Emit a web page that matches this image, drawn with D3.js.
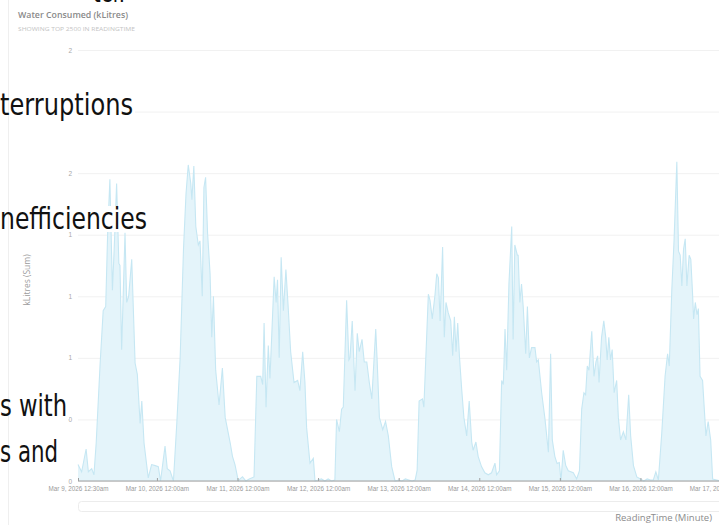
<!DOCTYPE html>
<html>
<head>
<meta charset="utf-8">
<script src="https://cdn.jsdelivr.net/npm/d3@7"></script>
<style>
  body { margin: 0; background: #fff; }
  svg { display: block; }
</style>
</head>
<body>
<div id="chart"></div>
<script>
// readings per day: [time, kLitres]
const mar09 = [["00:30",0.08],["01:35",0.045],["02:55",0.156],["03:35",0.045],["04:35",0.06],["05:15",0.03],["05:55",0.185],["07:05",0.57],["08:00",0.83],["08:45",0.85],["09:20",1.21],["10:00",1.47],["10:45",0.93],["11:15",1.12],["12:00",1.45],["12:40",1.06],["13:00",1.05],["13:30",0.64],["14:30",1.21],["15:00",0.87],["15:35",0.9],["16:30",1.08],["17:30",0.575],["18:10",0.52],["19:00",0.28],["19:30",0.39],["20:10",0.185],["21:25",0.015],["22:25",0.08],["23:30",0.075]]
const mar10 = [["00:25",0.07],["01:05",0.0],["02:25",0.17],["03:05",0.06],["03:55",0.05],["04:55",0.0],["05:55",0.28],["06:55",0.6],["07:55",1.13],["08:40",1.40],["09:20",1.54],["10:05",1.45],["10:25",1.37],["11:00",1.535],["11:35",1.24],["12:20",1.15],["12:50",1.17],["13:30",0.9],["14:00",1.43],["14:30",1.48],["15:05",1.21],["15:50",1.01],["16:20",0.70],["16:50",0.9],["17:30",0.54],["18:30",0.37],["19:30",0.55],["20:20",0.31],["21:50",0.185],["22:30",0.12],["23:15",0.08]]
const mar11 = [["00:15",0.0],["00:45",0.01],["01:30",0.02],["02:30",0.0],["03:30",0.01],["04:55",0.02],["05:45",0.51],["06:55",0.51],["07:30",0.47],["07:55",0.77],["08:30",0.36],["09:10",0.66],["09:40",0.5],["10:55",0.995],["11:30",0.87],["11:55",0.98],["12:25",0.6],["13:00",1.09],["13:40",0.83],["14:25",1.03],["15:05",0.85],["15:50",0.63],["16:50",0.48],["17:55",0.49],["18:35",0.44],["19:25",0.63],["20:05",0.48],["20:35",0.26],["21:35",0.087],["22:35",0.11],["23:05",0.0]]
const mar12 = [["00:00",0.005],["01:00",0.01],["02:00",0.0],["03:00",0.01],["04:00",0.0],["05:00",0.005],["05:30",0.3],["06:20",0.24],["07:00",0.35],["07:30",0.36],["08:30",0.88],["09:10",0.59],["09:30",0.6],["10:10",0.78],["11:00",0.44],["11:40",0.72],["12:15",0.63],["13:05",0.69],["13:45",0.58],["14:30",0.58],["15:15",0.48],["16:00",0.40],["17:10",0.74],["17:35",0.59],["18:15",0.31],["19:15",0.25],["20:05",0.29],["20:55",0.22],["21:55",0.07],["22:55",0.0]]
const mar13 = [["00:00",0.005],["01:00",0.0],["02:00",0.01],["03:00",0.005],["04:00",0.0],["04:55",0.005],["05:30",0.053],["06:05",0.39],["07:05",0.4],["07:30",0.36],["08:50",0.91],["09:20",0.88],["10:00",0.79],["10:50",0.91],["11:20",1.01],["11:50",0.99],["12:20",0.78],["13:05",1.14],["13:35",0.70],["14:05",0.87],["14:45",0.82],["15:30",0.78],["16:05",0.61],["16:35",0.80],["17:05",0.63],["17:35",0.77],["18:05",0.61],["18:45",0.45],["19:25",0.31],["20:15",0.22],["21:00",0.39],["21:45",0.19],["22:10",0.15],["23:00",0.19],["23:40",0.12]]
const mar14 = [["00:40",0.07],["01:40",0.04],["02:40",0.03],["03:40",0.04],["04:40",0.087],["05:10",0.03],["06:00",0.05],["06:40",0.49],["07:10",0.47],["07:40",0.74],["08:10",0.54],["08:50",0.96],["09:40",1.24],["10:05",0.69],["10:35",1.15],["11:20",1.10],["11:35",1.10],["12:05",0.87],["12:35",0.96],["13:05",0.85],["13:50",0.62],["14:20",0.85],["14:55",0.60],["15:35",0.65],["16:35",0.65],["17:05",0.58],["17:35",0.59],["18:35",0.43],["19:35",0.30],["20:35",0.14],["21:15",0.62],["21:45",0.20],["22:30",0.12],["23:10",0.085],["23:50",0.09]]
const mar15 = [["00:20",0.0],["01:00",0.15],["01:45",0.075],["02:30",0.05],["04:00",0.04],["05:00",0.01],["05:50",0.05],["06:30",0.35],["07:10",0.43],["07:40",0.42],["08:10",0.56],["08:40",0.54],["09:30",0.73],["10:10",0.51],["10:45",0.58],["11:15",0.61],["11:40",0.48],["12:25",0.70],["13:05",0.78],["13:40",0.70],["14:05",0.59],["14:35",0.70],["15:05",0.59],["15:35",0.64],["16:10",0.43],["16:55",0.49],["17:25",0.31],["18:05",0.20],["18:55",0.24],["19:40",0.20],["20:30",0.42],["21:05",0.22],["21:55",0.075],["22:55",0.02]]
const mar16 = [["00:00",0.01],["01:00",0.0],["02:00",0.01],["03:00",0.005],["03:50",0.005],["04:35",0.045],["05:20",0.005],["06:20",0.23],["07:20",0.51],["08:05",0.62],["08:35",0.56],["09:20",0.93],["10:00",1.17],["10:50",1.556],["11:20",1.12],["11:50",1.10],["12:20",0.95],["12:50",1.13],["13:20",1.18],["13:50",0.95],["14:30",1.10],["15:00",1.08],["15:30",0.92],["15:50",0.79],["16:20",0.87],["16:50",0.81],["17:15",0.84],["17:45",0.51],["18:30",0.49],["19:10",0.31],["19:30",0.22],["20:10",0.29],["20:55",0.20],["21:30",0.01],["22:40",0.005],["23:55",0.0]]

const days = [["2026-03-09", mar09], ["2026-03-10", mar10], ["2026-03-11", mar11], ["2026-03-12", mar12],
              ["2026-03-13", mar13], ["2026-03-14", mar14], ["2026-03-15", mar15], ["2026-03-16", mar16]]
const xTickLabels = ["2026-03-09 00:30", "2026-03-10 00:00", "2026-03-11 00:00", "2026-03-12 00:00", "2026-03-13 00:00",
                     "2026-03-14 00:00", "2026-03-15 00:00", "2026-03-16 00:00", "2026-03-17 00:00"]
const yTicks = [0, 0.3, 0.6, 0.9, 1.2, 1.5, 1.8, 2.1]

const width = 719
const height = 525
const parseTime = d3.timeParse('%Y-%m-%d %H:%M')

let readings = []
days.forEach(function (day) {
  day[1].forEach(function (r) {
    readings.push({ time: parseTime(day[0] + ' ' + r[0]), value: r[1] })
  })
})

let svg = d3.select('#chart').append('svg')
  .attr('width', width)
  .attr('height', height)
  .style('font-family', '"Open Sans", "Noto Sans", sans-serif')

let x = d3.scaleTime()
  .domain([parseTime('2026-03-09 00:30'), parseTime('2026-03-17 01:00')])
  .range([78, 724.4])
let y = d3.scaleLinear().domain([0, 2.1]).range([481, 50])

// faint panel border
svg.append('line').attr('x1', 8.5).attr('x2', 8.5).attr('y1', 0).attr('y2', height)
  .attr('stroke', '#efefef')

// title
svg.append('text').attr('x', 18).attr('y', 17.5)
  .attr('font-size', 8.5).attr('font-weight', 600).attr('fill', '#8a8a8a')
  .attr('textLength', 110).attr('lengthAdjust', 'spacingAndGlyphs')
  .text('Water Consumed (kLitres)')
svg.append('text').attr('x', 18).attr('y', 31)
  .attr('font-size', 5.5).attr('fill', '#c4c4c4')
  .attr('textLength', 117).attr('lengthAdjust', 'spacingAndGlyphs')
  .text('SHOWING TOP 2500 IN READINGTIME')

// grid
svg.append('g')
  .attr('transform', 'translate(78,0)')
  .call(d3.axisLeft(y).tickValues(yTicks).tickSize(-(width - 78)).tickFormat(''))
  .call(g => g.select('.domain').remove())
  .call(g => g.selectAll('line').attr('stroke', '#f1f1f1'))

// area + line
let area = d3.area().x(d => x(d.time)).y0(y(0)).y1(d => y(d.value))
let line = d3.line().x(d => x(d.time)).y(d => y(d.value))
svg.append('path').datum(readings).attr('d', area).attr('fill', '#e4f4fa')
svg.append('path').datum(readings).attr('d', line)
  .attr('fill', 'none').attr('stroke', '#c6e7f3').attr('stroke-width', 1.1)

// y axis labels
svg.append('g')
  .attr('transform', 'translate(78,0)')
  .call(d3.axisLeft(y).tickValues(yTicks).tickSize(0).tickPadding(6).tickFormat(d3.format('.0f')))
  .call(g => g.select('.domain').remove())
  .call(g => g.selectAll('text').attr('font-size', 6.5).attr('fill', '#a8a8a8').attr('font-family', null))

svg.append('text')
  .attr('transform', 'translate(30,280) rotate(-90)')
  .attr('text-anchor', 'middle')
  .attr('font-size', 8.5).attr('fill', '#9c9c9c')
  .text('kLitres (Sum)')

// x axis
let fmt = d3.timeFormat('%b %-d, %Y %-I:%M')
svg.append('g')
  .attr('transform', 'translate(0,481)')
  .call(d3.axisBottom(x).tickValues(xTickLabels.map(parseTime)).tickSize(-3).tickPadding(6)
    .tickFormat(d => fmt(d) + (d.getHours() < 12 ? 'am' : 'pm')))
  .call(g => g.select('.domain').attr('stroke', '#a0a0a0').attr('d', 'M78,0H' + width))
  .call(g => g.selectAll('line').attr('stroke', '#a0a0a0'))
  .call(g => g.selectAll('text').attr('font-size', 6.3).attr('fill', '#9a9a9a').attr('font-family', null))

// range slider frame
svg.append('rect').attr('x', 78.5).attr('y', 501.5).attr('width', 700).attr('height', 10).attr('rx', 3)
  .attr('fill', 'none').attr('stroke', '#ececec')

svg.append('text').attr('x', 712).attr('y', 521).attr('text-anchor', 'end')
  .attr('font-size', 9.5).attr('fill', '#8c8c8c')
  .text('ReadingTime (Minute)')

// slide text lying over the chart
const slideLines = [
  { text: 'ter.', x: 93, base: 2, w: 32, box: null },
  { text: 'terruptions', x: 0, base: 115, w: 133, box: [93, 123] },
  { text: 'nefficiencies', x: 0, base: 229, w: 147, box: [206, 232] },
  { text: 's with', x: 0, base: 416, w: 67, box: [394, 419] },
  { text: 's and', x: 0, base: 462, w: 58, box: [440, 467] }
]
slideLines.forEach(function (s) {
  if (s.box) {
    svg.append('rect').attr('x', 10).attr('y', s.box[0]).attr('width', s.w - 8).attr('height', s.box[1] - s.box[0])
      .attr('fill', '#fff')
  }
  svg.append('text').attr('x', s.x).attr('y', s.base)
    .attr('font-size', 30).attr('fill', '#111')
    .style('font-family', '"DejaVu Sans Condensed", "Liberation Sans Narrow", Roboto, sans-serif')
    .attr('textLength', s.w).attr('lengthAdjust', 'spacingAndGlyphs')
    .text(s.text)
})
</script>
</body>
</html>
